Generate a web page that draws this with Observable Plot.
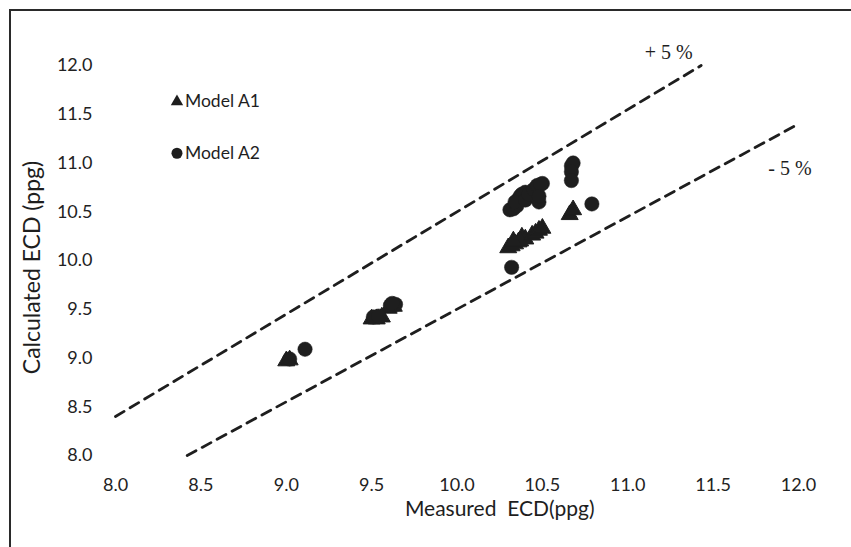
<!DOCTYPE html>
<html>
<head>
<meta charset="utf-8">
<script src="https://cdn.jsdelivr.net/npm/d3@7"></script>
<script src="https://cdn.jsdelivr.net/npm/@observablehq/plot@0.6"></script>
<style>
  html, body { margin: 0; padding: 0; background: #fff; }
  #wrap { position: relative; width: 851px; height: 547px; overflow: hidden; }
  #border { position: absolute; left: 9px; top: 9px; width: 900px; height: 600px;
            border-left: 2px solid #2a2a2a; border-top: 2px solid #2a2a2a; pointer-events: none; }
</style>
</head>
<body>
<div id="wrap"><div id="border"></div></div>
<script>
// Model A1 (triangles)
const a1x = [9.00, 9.02, 9.50, 9.53, 9.56, 9.60, 9.63, 10.30, 10.32, 10.34, 10.36, 10.38, 10.40, 10.37, 10.44, 10.46, 10.48, 10.50, 10.33, 10.66, 10.68];
const a1y = [8.97, 8.98, 9.40, 9.40, 9.42, 9.51, 9.53, 10.13, 10.15, 10.17, 10.19, 10.24, 10.22, 10.20, 10.26, 10.28, 10.31, 10.33, 10.20, 10.47, 10.52];
// Model A2 (circles)
const a2x = [9.02, 9.11, 9.51, 9.54, 9.61, 9.64, 9.62, 10.31, 10.33, 10.32, 10.35, 10.36, 10.38, 10.40, 10.37, 10.34, 10.40, 10.42, 10.45, 10.47, 10.50, 10.49, 10.48, 10.48, 10.67, 10.68, 10.67, 10.67, 10.79];
const a2y = [8.99, 9.09, 9.42, 9.43, 9.54, 9.55, 9.56, 10.52, 10.53, 9.93, 10.56, 10.63, 10.68, 10.70, 10.66, 10.60, 10.62, 10.68, 10.73, 10.77, 10.79, 10.78, 10.60, 10.66, 10.97, 11.00, 10.91, 10.82, 10.58];
// ±5 % reference lines
const plusX = [8.0, 11.43];
const plusY = [8.4, 12.0];
const minusX = [8.42, 12.0];
const minusY = [8.0, 11.4];
const ticks = [8.0, 8.5, 9.0, 9.5, 10.0, 10.5, 11.0, 11.5, 12.0];
const seriesNames = ["Model A1", "Model A2"];
const xTitle = "Measured  ECD(ppg)";
const yTitle = "Calculated ECD (ppg)";

const a1 = a1x.map((x, i) => ({x, y: a1y[i]}));
const a2 = a2x.map((x, i) => ({x, y: a2y[i]}));
const plus = plusX.map((x, i) => ({x, y: plusY[i]}));
const minus = minusX.map((x, i) => ({x, y: minusY[i]}));
const legendA1 = [{x: 8.36, y: 11.63, label: seriesNames[0]}];
const legendA2 = [{x: 8.36, y: 11.10, label: seriesNames[1]}];
const ink = "#1e1e1e";

const chart = Plot.plot({
  width: 851,
  height: 547,
  marginLeft: 115,
  marginRight: 53,
  marginTop: 65,
  marginBottom: 92,
  style: {fontFamily: "Lato, 'Open Sans', sans-serif", fontSize: "18px", color: "#222", background: "transparent"},
  x: {domain: [8, 12]},
  y: {domain: [8, 12]},
  marks: [
    Plot.axisX({ticks, tickFormat: d => d.toFixed(1), tickSize: 0, tickPadding: 23, label: null, fontSize: 18}),
    Plot.axisY({ticks, tickFormat: d => d.toFixed(1), tickSize: 0, tickPadding: 23, label: null, fontSize: 18}),
    Plot.line(plus, {x: "x", y: "y", stroke: ink, strokeWidth: 2.8, strokeDasharray: "10,7"}),
    Plot.line(minus, {x: "x", y: "y", stroke: ink, strokeWidth: 2.8, strokeDasharray: "10,7"}),
    Plot.dot(a1, {x: "x", y: "y", symbol: "triangle", r: 6.3, fill: ink, stroke: ink, strokeWidth: 1}),
    Plot.dot(a2, {x: "x", y: "y", symbol: "circle", r: 7.2, fill: ink, stroke: ink, strokeWidth: 0.5}),
    Plot.dot(legendA1, {x: "x", y: "y", symbol: "triangle", r: 4.6, fill: ink}),
    Plot.dot(legendA2, {x: "x", y: "y", symbol: "circle", r: 5.5, fill: ink}),
    Plot.text(legendA1.concat(legendA2), {x: "x", y: "y", text: "label", dx: 8, textAnchor: "start", fontSize: 17.5, fill: ink}),
    Plot.text([{x: 11.24, y: 12.13, t: "+ 5 %"}, {x: 11.95, y: 10.94, t: "- 5 %"}],
      {x: "x", y: "y", text: "t", fontFamily: "'Liberation Serif', serif", fontSize: 20, fill: ink, clip: false}),
    Plot.text([xTitle], {x: 10.25, frameAnchor: "bottom", dy: 60, fontSize: 21, fill: ink}),
    Plot.text([yTitle], {frameAnchor: "left", textAnchor: "middle", dx: -83, dy: 7, rotate: -90, fontSize: 23, fill: ink})
  ]
});
document.getElementById("wrap").prepend(chart);
</script>
</body>
</html>
